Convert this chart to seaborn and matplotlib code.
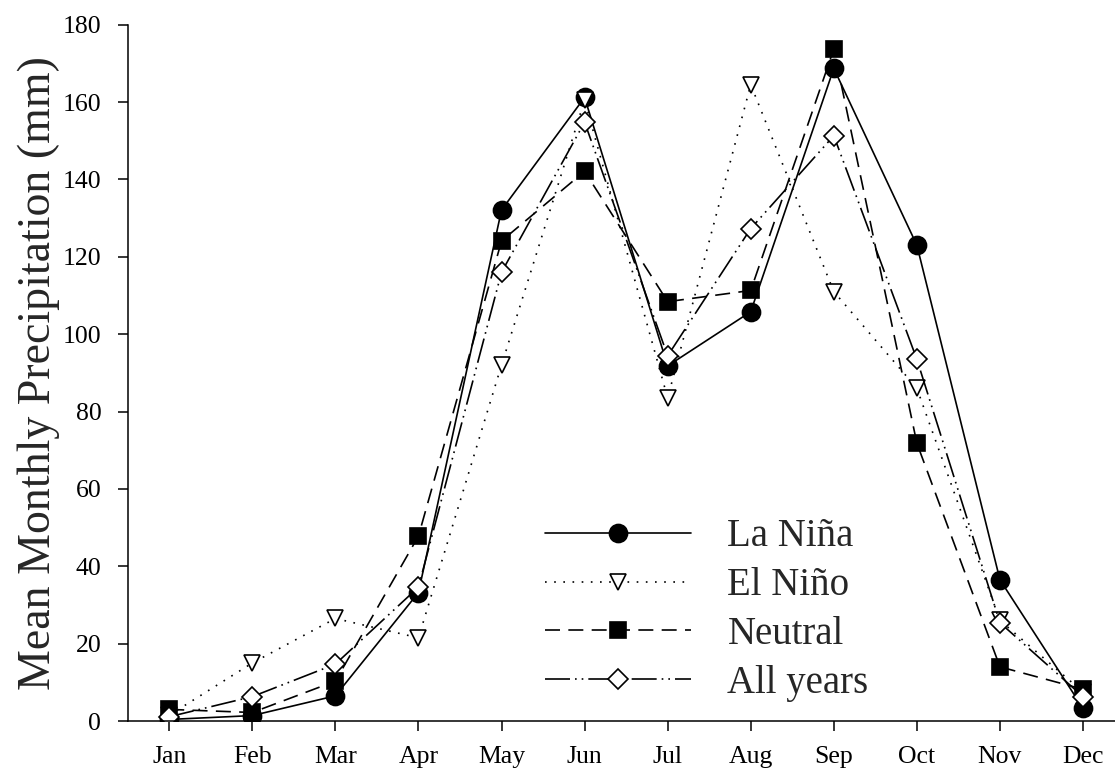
import matplotlib
matplotlib.use("Agg")
import matplotlib.pyplot as plt
import seaborn as sns
import pandas as pd

months = ["Jan", "Feb", "Mar", "Apr", "May", "Jun",
          "Jul", "Aug", "Sep", "Oct", "Nov", "Dec"]

la_nina = [0.4, 1.4, 6.5, 33.2, 132.1, 161.2, 91.8, 105.8, 168.7, 123.0, 36.5, 3.3]
el_nino = [1.5, 15.0, 26.5, 21.5, 92.0, 160.5, 83.5, 164.5, 111.0, 86.0, 26.0, 7.5]
neutral = [3.0, 2.2, 10.3, 47.8, 124.1, 142.1, 108.4, 111.3, 173.7, 71.8, 14.0, 8.2]
all_years = [1.1, 6.3, 14.7, 34.6, 116.0, 154.8, 94.4, 127.3, 151.3, 93.5, 25.4, 6.3]

series_names = ["La Niña", "El Niño", "Neutral", "All years"]
series_values = [la_nina, el_nino, neutral, all_years]

styles = {
    "La Niña":   dict(marker="o", mfc="black", ms=13, ls="-"),
    "El Niño":   dict(marker="v", mfc="white", ms=12, ls=(0, (1, 4.5))),
    "Neutral":   dict(marker="s", mfc="black", ms=11.5, ls=(0, (9, 5))),
    "All years": dict(marker="D", mfc="white", ms=10.5, ls=(0, (15, 3, 1, 3, 1, 3))),
}

sns.set_style("ticks")
plt.rcParams["font.family"] = ["Liberation Serif", "DejaVu Serif"]

fig = plt.figure(figsize=(11.15, 7.76), dpi=100)
ax = fig.add_axes([127.7 / 1115, 1 - 721 / 776, 1 - 127.7 / 1115, (721 - 24.7) / 776])

for name, vals in zip(series_names, series_values):
    df = pd.DataFrame({"month": months, "precip": vals})
    st = styles[name]
    sns.lineplot(data=df, x="month", y="precip", ax=ax, sort=False,
                 errorbar=None, color="black", lw=1.2,
                 linestyle=st["ls"], marker=st["marker"],
                 markersize=st["ms"], markerfacecolor=st["mfc"],
                 markeredgecolor="black", markeredgewidth=1.2,
                 label=name)

ax.set_ylim(0, 180)
ax.set_xlim(-0.5, 11.385)
ax.set_yticks(range(0, 181, 20))
ax.set_xlabel("")
ax.set_ylabel("Mean Monthly Precipitation (mm)", fontsize=33, labelpad=2)

for side in ("top", "right"):
    ax.spines[side].set_visible(False)
for side in ("left", "bottom"):
    ax.spines[side].set_linewidth(1.1)
    ax.spines[side].set_color("black")

ax.tick_params(axis="both", direction="out", length=7, width=1.1,
               colors="black", labelsize=18.5)
ax.tick_params(axis="y", pad=12)
ax.tick_params(axis="x", pad=11)

leg = ax.legend(loc="center", bbox_to_anchor=(707 / 1115, 1 - 610 / 776),
                bbox_transform=fig.transFigure, frameon=False, fontsize=28,
                handlelength=3.75, handletextpad=0.93, labelspacing=0.3,
                borderpad=0, numpoints=1)

fig.savefig("out.png", dpi=100, facecolor="white")
